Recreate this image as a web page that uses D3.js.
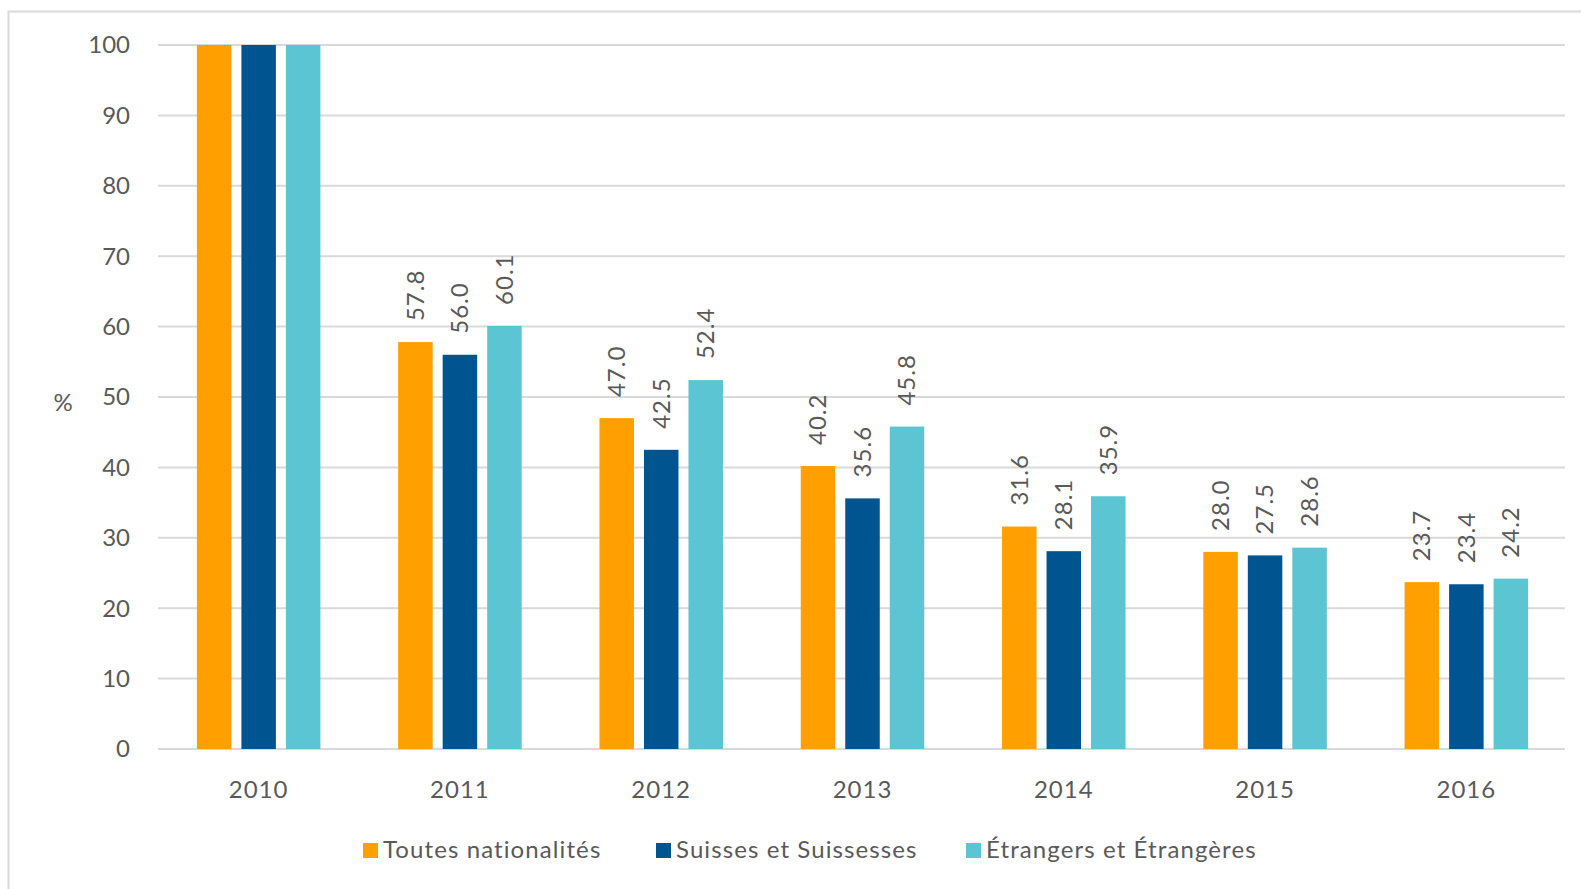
<!DOCTYPE html>
<html>
<head>
<meta charset="utf-8">
<script src="https://cdn.jsdelivr.net/npm/d3@7"></script>
<style>
    body { margin: 0; background: #fff; }
    text { font-family: Lato, "Open Sans", sans-serif; fill: #595959; }
</style>
</head>
<body>
<div id="graph"></div>
<script>
// chart data
const years = ['2010', '2011', '2012', '2013', '2014', '2015', '2016'];
const seriesNames = ['Toutes nationalités', 'Suisses et Suissesses', 'Étrangers et Étrangères'];
const toutes = [100, 57.8, 47.0, 40.2, 31.6, 28.0, 23.7];
const suisses = [100, 56.0, 42.5, 35.6, 28.1, 27.5, 23.4];
const etrangers = [100, 60.1, 52.4, 45.8, 35.9, 28.6, 24.2];
const yTicks = [0, 10, 20, 30, 40, 50, 60, 70, 80, 90, 100];
const colors = ['#ffa000', '#00548f', '#5cc5d4'];

function showGraph() {
    const width = 1581, height = 889;
    const series = [toutes, suisses, etrangers];

    const svg = d3.select('#graph').append('svg')
        .attr('width', width)
        .attr('height', height);

    // outer frame (only left and top visible)
    svg.append('path')
        .attr('d', 'M8.5,' + height + 'V11.5H' + width)
        .attr('fill', 'none')
        .attr('stroke', '#d9d9d9')
        .attr('stroke-width', 2);

    const x0 = d3.scaleBand().domain(years).range([158, 1567]);
    const x1 = d3.scaleBand().domain([0, 1, 2])
        .range([-61.75, 61.75])
        .paddingInner(0.2247);
    const y = d3.scaleLinear().domain([0, 100]).range([749, 45]);

    // gridlines
    svg.append('g').selectAll('line').data(yTicks).enter()
        .append('line')
        .attr('x1', 158).attr('x2', 1565)
        .attr('y1', d => y(d)).attr('y2', d => y(d))
        .attr('stroke', '#d9d9d9')
        .attr('stroke-width', 2);

    // y tick labels
    svg.append('g').selectAll('text').data(yTicks).enter()
        .append('text')
        .attr('x', 130)
        .attr('y', d => y(d))
        .attr('dy', '0.35em')
        .attr('text-anchor', 'end')
        .style('font-size', '24px')
        .text(d => d);

    svg.append('text')
        .attr('x', 63).attr('y', 403)
        .attr('dy', '0.35em')
        .attr('text-anchor', 'middle')
        .style('font-size', '24px')
        .text('%');

    // bars
    const groups = svg.selectAll('.year').data(years).enter()
        .append('g')
        .attr('class', 'year')
        .attr('transform', d => 'translate(' + (x0(d) + x0.bandwidth() / 2) + ',0)');

    groups.selectAll('rect')
        .data((d, i) => series.map((s, k) => ({ k: k, v: s[i] })))
        .enter().append('rect')
        .attr('x', d => x1(d.k))
        .attr('width', x1.bandwidth())
        .attr('y', d => y(d.v))
        .attr('height', d => y(0) - y(d.v))
        .attr('fill', d => colors[d.k]);

    // value labels (not for 2010)
    groups.filter((d, i) => i > 0).selectAll('text.val')
        .data((d) => { const i = years.indexOf(d); return series.map((s, k) => ({ k: k, v: s[i] })); })
        .enter().append('text')
        .attr('class', 'val')
        .attr('transform', d => 'translate(' + (x1(d.k) + x1.bandwidth() / 2) + ',' + (y(d.v) - 21) + ') rotate(-90)')
        .attr('dy', '0.35em')
        .style('font-size', '24px')
        .style('letter-spacing', '1px')
        .text(d => d.v.toFixed(1));

    // x axis labels
    svg.append('g').selectAll('text').data(years).enter()
        .append('text')
        .attr('x', d => x0(d) + x0.bandwidth() / 2)
        .attr('y', 798)
        .attr('text-anchor', 'middle')
        .style('font-size', '24px')
        .style('letter-spacing', '1px')
        .text(d => d);

    // legend
    const legendX = [363, 656, 966];
    const legend = svg.selectAll('.legend').data(seriesNames).enter()
        .append('g')
        .attr('class', 'legend')
        .attr('transform', (d, i) => 'translate(' + legendX[i] + ',850)');
    legend.append('rect')
        .attr('x', 0).attr('y', -7)
        .attr('width', 15).attr('height', 15)
        .attr('fill', (d, i) => colors[i]);
    legend.append('text')
        .attr('x', 20).attr('y', 0)
        .attr('dy', '0.35em')
        .style('font-size', '24px')
        .style('letter-spacing', '1.1px')
        .text(d => d);
}

document.addEventListener('DOMContentLoaded', function() {
    showGraph();
});
</script>
</body>
</html>
